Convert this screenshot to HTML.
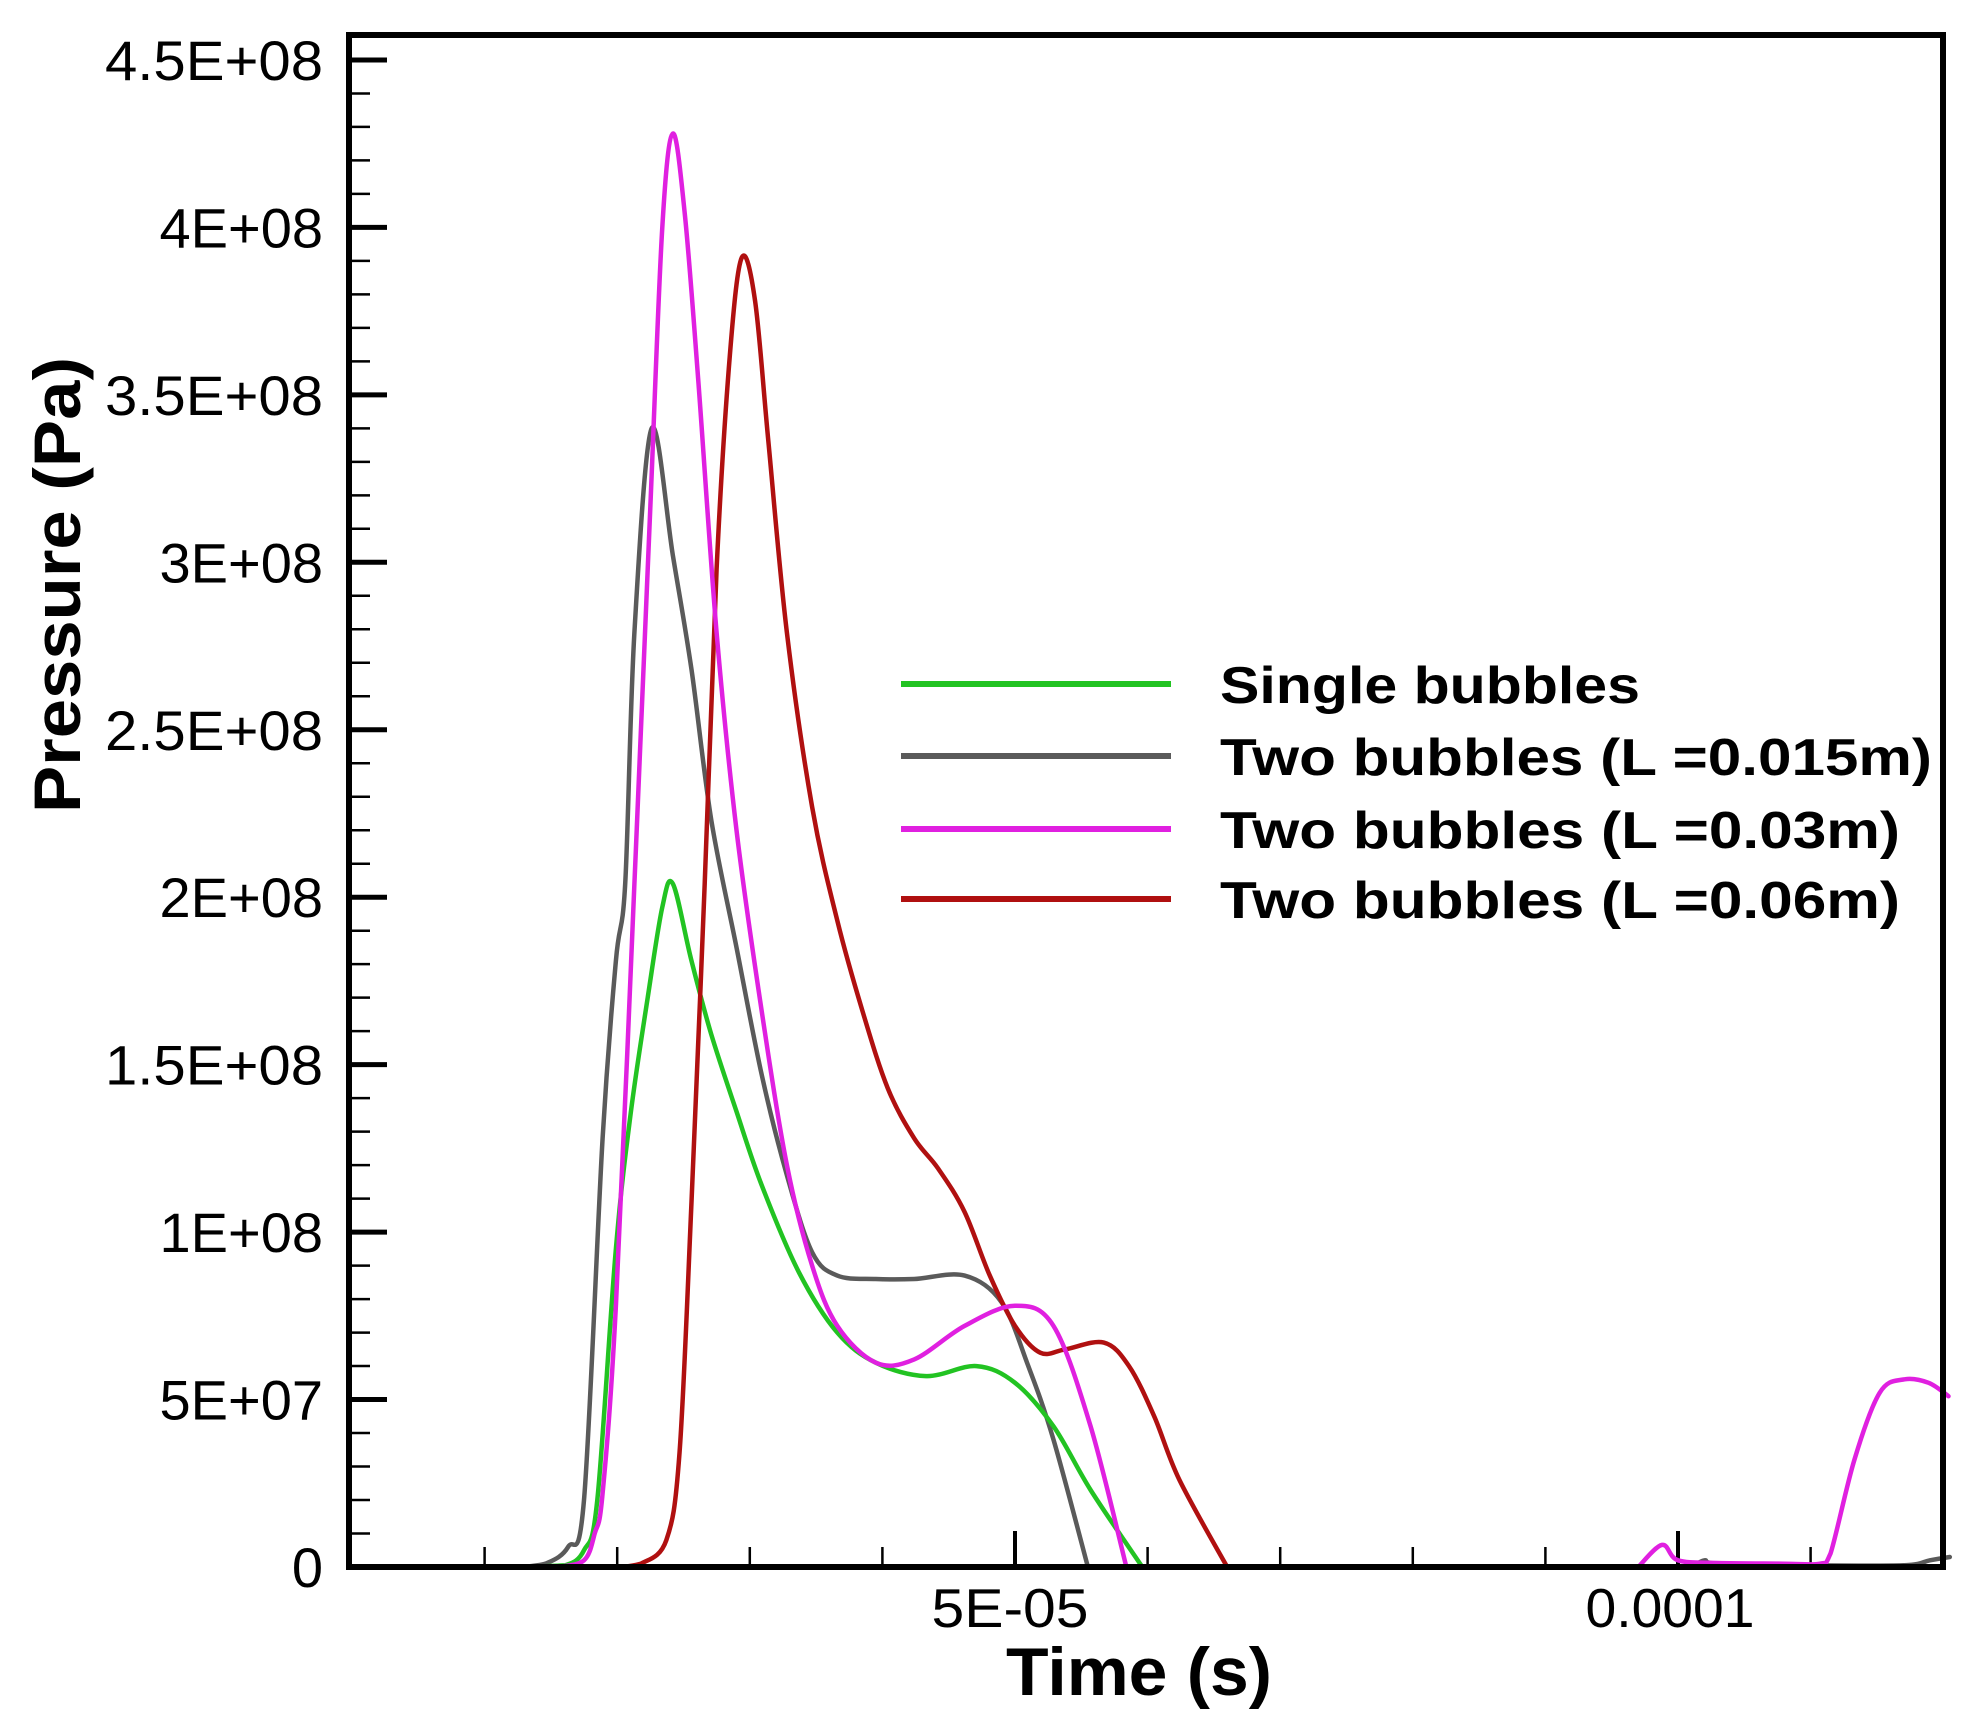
<!DOCTYPE html>
<html><head><meta charset="utf-8"><style>
html,body{margin:0;padding:0;background:#fff;}
svg{display:block;}
text{font-family:"Liberation Sans",Arial,sans-serif;fill:#000;}
</style></head><body>
<svg id="s" width="1982" height="1733" viewBox="0 0 1982 1733" xmlns="http://www.w3.org/2000/svg">
<rect width="1982" height="1733" fill="#fff"/>
<g id="ticks" stroke="#000"></g>
<g id="curves" fill="none" stroke-width="4.5" stroke-linejoin="round" stroke-linecap="round"></g>
<rect x="349" y="35" width="1594" height="1532" fill="none" stroke="#000" stroke-width="6"/>
<g id="ylab" font-size="56" text-anchor="end"></g>
<text x="1010" y="1627" font-size="55" text-anchor="middle" textLength="157" lengthAdjust="spacingAndGlyphs">5E-05</text>
<text x="1670" y="1627" font-size="55" text-anchor="middle" textLength="169" lengthAdjust="spacingAndGlyphs">0.0001</text>
<text x="1006" y="1695" font-size="68" font-weight="bold" textLength="266" lengthAdjust="spacingAndGlyphs">Time (s)</text>
<text transform="translate(80,585) rotate(-90)" x="0" y="0" font-size="66" font-weight="bold" text-anchor="middle" textLength="456" lengthAdjust="spacingAndGlyphs">Pressure (Pa)</text>
<g stroke-width="6">
<line x1="901" y1="684" x2="1171" y2="684" stroke="#22c322"/>
<line x1="901" y1="756" x2="1171" y2="756" stroke="#5a5a5a"/>
<line x1="901" y1="829" x2="1171" y2="829" stroke="#e020e0"/>
<line x1="901" y1="899" x2="1171" y2="899" stroke="#b01010"/>
</g>
<g font-size="52" font-weight="bold">
<text x="1220" y="703" textLength="420" lengthAdjust="spacingAndGlyphs">Single bubbles</text>
<text x="1220" y="775" textLength="712" lengthAdjust="spacingAndGlyphs">Two bubbles (L =0.015m)</text>
<text x="1220" y="848" textLength="680" lengthAdjust="spacingAndGlyphs">Two bubbles (L =0.03m)</text>
<text x="1220" y="918" textLength="680" lengthAdjust="spacingAndGlyphs">Two bubbles (L =0.06m)</text>
</g>
</svg>
<script>
(function(){
var NS="http://www.w3.org/2000/svg";
function X(t){return 352+t*13.26;}
function Y(p){return 1567-p*334.9;}
function el(par,name,attrs){var e=document.createElementNS(NS,name);for(var k in attrs)e.setAttribute(k,attrs[k]);document.getElementById(par).appendChild(e);return e;}
var labs={0:"0",5:"5E+07",10:"1E+08",15:"1.5E+08",20:"2E+08",25:"2.5E+08",30:"3E+08",35:"3.5E+08",40:"4E+08",45:"4.5E+08"};
for(var i=0;i<=45;i++){var y=1567-i*33.49;var maj=i%5==0;
 if(i>0) el("ticks","line",{x1:349,y1:y,x2:349+(maj?38:21),y2:y,"stroke-width":maj?5:2.5});
 if(maj){var t=el("ylab","text",{x:323,y:y+20});t.textContent=labs[i];
  if(labs[i].length>5){t.setAttribute("textLength",labs[i].length>6?218:190);t.setAttribute("lengthAdjust","spacingAndGlyphs");}}}
for(var i=1;i<=11;i++){var x=X(i*10);var maj=i%5==0;
 el("ticks","line",{x1:x,y1:1567,x2:x,y2:1567-(maj?36:20),"stroke-width":maj?4:2.5});}
function path(pts,col){
 var P=pts.map(function(a){return [X(a[0]),Y(a[1])];});
 var d="M"+P[0][0]+","+P[0][1];
 function cl(v){return Math.min(v,1566);}
 for(var i=0;i<P.length-1;i++){
  var p0=P[i-1]||P[i],p1=P[i],p2=P[i+1],p3=P[i+2]||P[i+1];
  var c1=[p1[0]+(p2[0]-p0[0])/6,cl(p1[1]+(p2[1]-p0[1])/6)];
  var c2=[p2[0]-(p3[0]-p1[0])/6,cl(p2[1]-(p3[1]-p1[1])/6)];
  d+=" C"+c1[0].toFixed(1)+","+c1[1].toFixed(1)+" "+c2[0].toFixed(1)+","+c2[1].toFixed(1)+" "+p2[0].toFixed(1)+","+p2[1].toFixed(1);
 }
 el("curves","path",{d:d,stroke:col});
}
var green=[[14,0],[16.1,0.005],[17.5,0.05],[18.5,0.2],[19.9,0.95],[21,1.35],[22.3,1.7],[23.4,1.97],[24.2,2.04],[25.6,1.81],[27.1,1.59],[29,1.36],[30.9,1.14],[33.7,0.88],[36.6,0.7],[39.5,0.61],[43.3,0.57],[47.1,0.6],[50,0.55],[52.9,0.42],[55.7,0.23],[59.6,0]];
var gray=[[13,0],[14.6,0.01],[16.3,0.06],[17.5,0.2],[18.9,1.28],[19.9,1.81],[20.6,2.04],[21.3,2.79],[22.6,3.4],[24.2,3.02],[25.6,2.68],[27.1,2.23],[29,1.85],[30.9,1.47],[32.8,1.17],[34.7,0.94],[36.6,0.87],[39.5,0.86],[42.4,0.86],[46.2,0.87],[49,0.79],[51,0.6],[52.9,0.38],[55.5,0]];
var gray2=[[101,0],[102,0.02],[103,0.01],[110,0.005],[117,0.005],[119,0.02],[120.5,0.03]];
var mag=[[15.5,0],[17.5,0.02],[18.3,0.1],[18.9,0.22],[19.9,0.78],[21.3,2.04],[22.5,3.17],[23.4,4.0],[24.2,4.28],[25.1,4.04],[26.1,3.55],[27.5,2.79],[29,2.2],[30.9,1.66],[32.8,1.2],[34.7,0.9],[36.6,0.72],[39.5,0.61],[42.4,0.62],[46.2,0.72],[50,0.78],[52.9,0.72],[55.7,0.42],[58.4,0]];
var mag2=[[97,0],[98.8,0.066],[100,0.02],[103,0.012],[108,0.01],[110.7,0.01],[111.5,0.04],[113.3,0.32],[115.2,0.52],[117,0.56],[118.9,0.55],[120.4,0.51]];
var red=[[20.5,0],[21.8,0.01],[23.7,0.08],[24.7,0.34],[25.6,1.09],[26.6,2.04],[27.5,2.98],[28.5,3.62],[29.4,3.91],[30.4,3.78],[31.4,3.36],[32.8,2.79],[34.7,2.27],[36.6,1.93],[38.5,1.66],[40.4,1.43],[42.4,1.28],[44.2,1.19],[46.2,1.06],[48.1,0.87],[50,0.72],[51.9,0.64],[53.8,0.65],[56.7,0.67],[58.6,0.6],[60.5,0.45],[62.4,0.26],[66,0]];
path(gray,"#5a5a5a");path(gray2,"#5a5a5a");
path(green,"#22c322");
path(red,"#b01010");
path(mag,"#e020e0");path(mag2,"#e020e0");
})();
</script>
</body></html>
